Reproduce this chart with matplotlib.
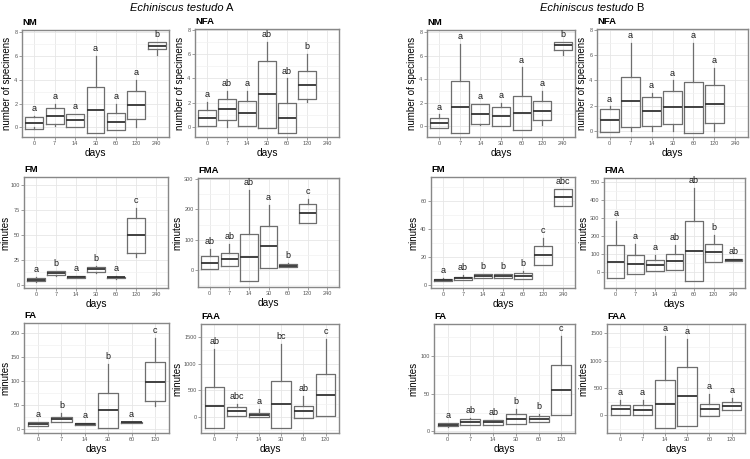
import matplotlib.pyplot as plt
from matplotlib.ticker import MultipleLocator

plt.rcParams['font.family'] = ['Liberation Sans', 'DejaVu Sans']

days7 = ['0', '7', '14', '30', '60', '120', '240']
days6 = days7[:6]

# each box: (lower whisker, q1, median, q3, upper whisker); None = no box
nm_a = [(0.0, -0.14, 0.36, 0.87, 1.0), (0.1, 0.31, 0.98, 1.62, 2.0),
        (0.05, 0.05, 0.6, 1.12, 1.15), (-0.48, -0.48, 1.48, 3.44, 6.0),
        (-0.25, -0.25, 0.5, 1.2, 2.0), (0.0, 0.7, 1.87, 3.1, 4.0),
        (6.1, 6.57, 6.88, 7.2, 7.2)]
nm_a_letters = ['a', 'a', 'a', 'a', 'a', 'a', 'b']

nfa_a = [(0.03, 0.03, 0.71, 1.39, 2.05), (0.0, 0.55, 1.45, 2.27, 3.0),
         (0.05, 0.1, 1.12, 2.13, 3.0), (-0.08, -0.08, 2.7, 5.46, 7.0),
         (-0.52, -0.52, 0.71, 1.94, 4.0), (2.08, 2.32, 3.5, 4.64, 6.0), None]
nfa_a_letters = ['a', 'ab', 'a', 'ab', 'ab', 'b', '']

nm_b = [(-0.2, -0.2, 0.26, 0.65, 1.0), (-0.6, -0.6, 1.62, 3.86, 7.0),
        (0.05, 0.17, 1.02, 1.84, 1.9), (0.03, 0.03, 0.82, 1.62, 2.0),
        (-0.31, -0.31, 1.1, 2.55, 5.0), (0.05, 0.48, 1.3, 2.15, 3.0),
        (6.1, 6.47, 6.9, 7.2, 7.2)]
nm_b_letters = ['a', 'a', 'a', 'a', 'a', 'a', 'b']

nfa_b = [(-0.1, -0.1, 0.85, 1.76, 1.94), (0.0, 0.29, 2.37, 4.3, 7.0),
         (0.0, 0.37, 1.57, 2.66, 3.0), (0.0, 0.5, 1.86, 3.14, 4.0),
         (-0.19, -0.19, 1.86, 3.88, 7.0), (0.0, 0.59, 2.13, 3.62, 5.0), None]
nfa_b_letters = ['a', 'a', 'a', 'a', 'a', 'a', '']

fm_a = [(3.0, 3.4, 5.0, 6.7, 7.5), (9.0, 9.4, 11.4, 13.4, 14.0),
        (6.5, 6.7, 7.4, 8.4, 8.5), (12.0, 12.8, 15.4, 18.1, 18.8),
        (6.0, 6.5, 7.2, 8.0, 8.2), (27.9, 31.2, 49.7, 66.4, 76.5), None]
fm_a_letters = ['a', 'b', 'a', 'b', 'a', 'c', '']

fma_a = [(3.4, 3.4, 23.6, 45.0, 68.5), (12.4, 12.4, 35.0, 56.0, 87.6),
         (-37.0, -37.0, 41.6, 118.0, 266.0), (6.7, 6.7, 78.6, 145.0, 216.0),
         (11.0, 11.0, 15.0, 20.0, 23.6), (154.0, 154.0, 189.0, 218.0, 234.0), None]
fma_a_letters = ['ab', 'ab', 'ab', 'a', 'b', 'c', '']

fm_b = [(3.4, 3.4, 4.1, 4.8, 5.3), (4.1, 4.1, 5.0, 6.2, 7.2),
        (5.3, 5.3, 6.5, 7.9, 7.9), (5.0, 5.0, 6.5, 7.9, 7.9),
        (4.3, 4.3, 6.5, 8.6, 10.0), (14.6, 14.6, 21.6, 28.0, 34.0),
        (56.8, 56.8, 63.0, 69.0, 69.0)]
fm_b_letters = ['a', 'ab', 'b', 'b', 'b', 'c', 'abc']

fma_b = [(-35.0, -35.0, 54.0, 147.0, 281.0), (-11.0, -11.0, 45.0, 91.0, 156.0),
         (5.6, 5.6, 35.0, 67.0, 91.0), (11.0, 11.0, 58.0, 100.0, 147.0),
         (-50.0, -50.0, 117.0, 284.0, 466.0), (56.0, 56.0, 110.0, 156.0, 202.0),
         (61.0, 61.0, 67.0, 71.0, 71.0)]
fma_b_letters = ['a', 'a', 'a', 'ab', 'ab', 'b', 'ab']

fa_a = [(6.0, 7.0, 10.4, 14.0, 14.0), (14.0, 14.0, 21.0, 25.0, 33.0),
        (9.0, 9.0, 11.0, 13.0, 13.0), (2.8, 2.8, 40.0, 75.0, 136.0),
        (12.5, 12.5, 14.0, 15.0, 15.0), (47.0, 58.0, 98.6, 139.0, 190.0)]
fa_a_letters = ['a', 'b', 'a', 'b', 'a', 'c']

faa_a = [(-199.0, -199.0, 199.0, 571.0, 1267.0), (25.0, 25.0, 106.0, 186.0, 248.0),
         (0.0, 0.0, 37.0, 75.0, 149.0), (-199.0, -199.0, 236.0, 671.0, 1366.0),
         (-12.0, -12.0, 112.0, 211.0, 398.0), (12.0, 12.0, 410.0, 807.0, 1453.0)]
faa_a_letters = ['ab', 'abc', 'a', 'bc', 'ab', 'c']

fa_b = [(6.0, 6.7, 8.9, 11.0, 11.5), (8.9, 8.9, 13.0, 17.0, 18.0),
        (8.9, 8.9, 12.4, 15.6, 15.6), (9.3, 9.3, 17.0, 22.7, 30.0),
        (12.4, 12.4, 17.0, 20.0, 23.6), (22.0, 22.0, 55.6, 87.6, 127.0)]
fa_b_letters = ['a', 'ab', 'ab', 'b', 'b', 'c']

faa_b = [(0.0, 0.0, 110.0, 196.0, 288.0), (0.0, 0.0, 104.0, 196.0, 288.0),
         (-239.0, -239.0, 209.0, 638.0, 1454.0), (-196.0, -196.0, 356.0, 890.0, 1393.0),
         (-6.0, -6.0, 110.0, 209.0, 387.0), (92.0, 92.0, 172.0, 245.0, 325.0)]
faa_b_letters = ['a', 'a', 'a', 'a', 'a', 'a']


W, H = 750, 459
fig = plt.figure(figsize=(7.5, 4.59), dpi=100)


def rect(l, t, r, b):
    return [l / W, 1 - b / H, (r - l) / W, (b - t) / H]


def panel(l, t, r, b, data, letters, cats, ylim, step, title, ylabel, lab_x=None):
    ax = fig.add_axes(rect(l, t, r, b))
    stats, pos = [], []
    for i, d in enumerate(data):
        if d is None:
            continue
        lo, q1, med, q3, hi = d
        stats.append(dict(whislo=lo, q1=q1, med=med, q3=q3, whishi=hi, fliers=[]))
        pos.append(i)
    ax.bxp(stats, positions=pos, widths=0.88, showcaps=False, showfliers=False,
           boxprops=dict(color='#6e6e6e', lw=0.9),
           whiskerprops=dict(color='#6e6e6e', lw=0.9),
           medianprops=dict(color='#333333', lw=1.3))
    span = ylim[1] - ylim[0]
    for i, d in enumerate(data):
        if d is None:
            continue
        ax.text(i, d[4] + 0.068 * span, letters[i], ha='center', va='center',
                fontsize=6.5, color='#1a1a1a')
    ax.set_xlim(-0.6, len(cats) - 0.4)
    ax.set_ylim(*ylim)
    ax.set_xticks(range(len(cats)))
    ax.set_xticklabels(cats)
    ax.yaxis.set_major_locator(MultipleLocator(step))
    ax.yaxis.set_minor_locator(MultipleLocator(step / 2))
    ax.grid(True, which='major', color='#e6e6e6', lw=0.6)
    ax.grid(True, which='minor', axis='y', color='#f2f2f2', lw=0.5)
    ax.set_axisbelow(True)
    ax.tick_params(labelsize=4, labelcolor='#555555', color='#777777',
                   length=2, width=0.5, pad=1.2)
    ax.tick_params(which='minor', length=0)
    for s in ax.spines.values():
        s.set_color('#888888')
        s.set_linewidth(1.0)
    ax.set_title(title, loc='left', fontweight='bold', fontsize=6.8, pad=3.5)
    if lab_x is None:
        ax.set_ylabel(ylabel, fontsize=7, labelpad=1.5)
    else:
        ax.set_ylabel(ylabel, fontsize=7, va='center')
        ax.yaxis.set_label_coords((lab_x - l) / (r - l), 0.5)
    ax.set_xlabel('days', fontsize=7.3, labelpad=1)
    return ax


spec = 'number of specimens'
panel(22, 30, 169, 137, nm_a, nm_a_letters, days7, (-0.8, 8.2), 2, 'NM', spec)
panel(195, 29, 339, 137, nfa_a, nfa_a_letters, days7, (-0.85, 8.1), 2, 'NFA', spec)
panel(427, 30, 575, 137, nm_b, nm_b_letters, days7, (-0.94, 8.2), 2, 'NM', spec)
panel(597, 29, 748, 137, nfa_b, nfa_b_letters, days7, (-0.5, 8.1), 2, 'NFA', spec)

panel(24, 177, 168, 288, fm_a, fm_a_letters, days7, (-3.4, 107.7), 25, 'FM', 'minutes', lab_x=5.5)
panel(198, 178, 339, 287, fma_a, fma_a_letters, days7, (-56, 304), 100, 'FMA', 'minutes')
panel(431, 177, 575, 288, fm_b, fm_b_letters, days7, (-1.9, 77.5), 20, 'FM', 'minutes')
panel(604, 178, 745, 288, fma_b, fma_b_letters, days7, (-91, 522), 100, 'FMA', 'minutes')

panel(24, 323, 169, 433, fa_a, fa_a_letters, days6, (-8.3, 221), 50, 'FA', 'minutes', lab_x=5.5)
panel(201, 324, 339, 433, faa_a, faa_a_letters, days6, (-298, 1740), 500, 'FAA', 'minutes')
panel(434, 324, 575, 433, fa_b, fa_b_letters, days6, (-2.2, 142.7), 50, 'FA', 'minutes')
panel(607, 324, 745, 433, faa_b, faa_b_letters, days6, (-325, 1672), 500, 'FAA', 'minutes')

# group titles: italic species name followed by upright letter
for xsplit, letter in [(224, 'A'), (634, 'B')]:
    fig.text(xsplit / W, 1 - 8 / H, 'Echiniscus testudo', style='italic',
             ha='right', va='center', fontsize=8)
    fig.text((xsplit + 2) / W, 1 - 8 / H, letter, ha='left', va='center', fontsize=8)

fig.savefig('out.png', dpi=100, facecolor='white')
